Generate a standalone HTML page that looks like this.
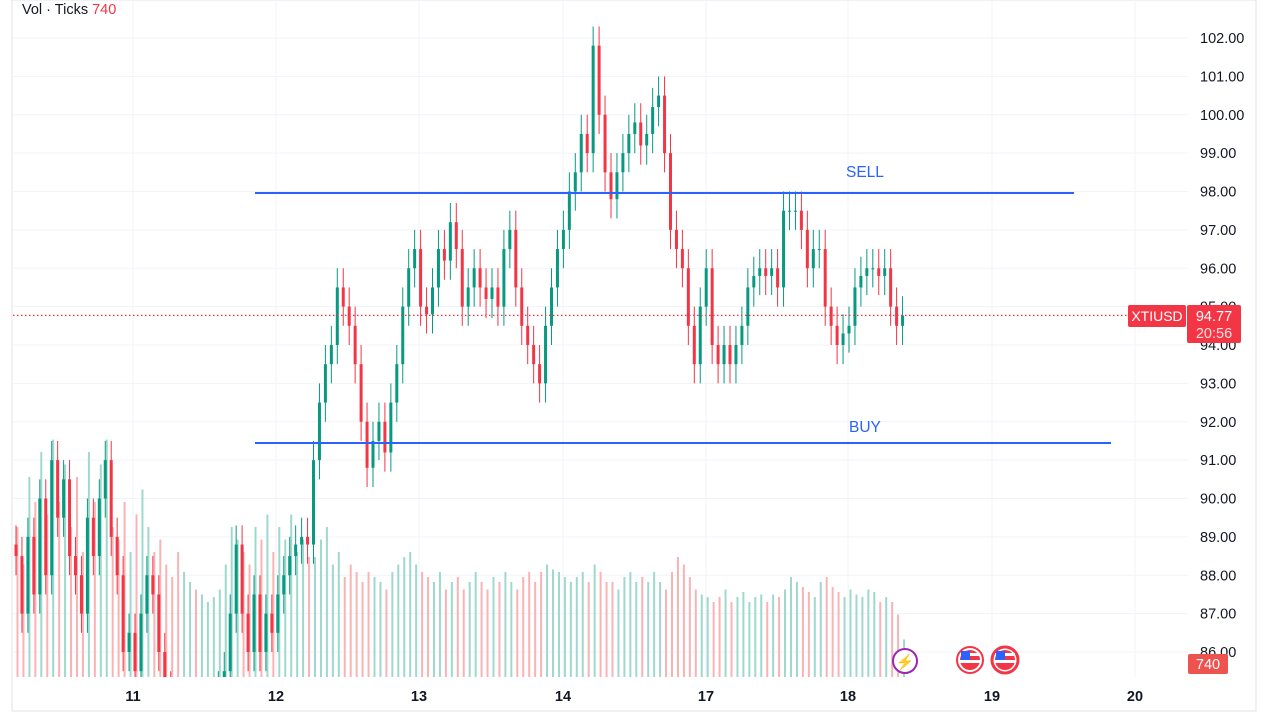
<!DOCTYPE html>
<html><head><meta charset="utf-8"><style>
body{margin:0;background:#fff;width:1269px;height:717px;overflow:hidden;font-family:"Liberation Sans",sans-serif}
svg{display:block}
</style></head><body>
<svg id="c" width="1269" height="717">
<defs><clipPath id="plot"><rect x="13" y="0" width="1175" height="677"/></clipPath></defs>
<g id="grid"></g>
<g id="vol" clip-path="url(#plot)"></g>
<g id="candles" clip-path="url(#plot)"></g>
<g id="over"></g>
</svg>
<script>
const closes=[88.5,87,89,87.5,90,88,91,89.5,90.5,88.5,
88,87,89.5,88.5,90,91,89,88,86,86.5,
85.5,87,88,87.5,86,85,84.5,84,84,84.5,
84,84,84.5,84.5,85,85.5,87,88.8,87,86,
87.5,86,87,86.5,87.5,88,88.5,88.8,89,88.8,
91,92.5,93.5,94,95.5,95,94.5,93.5,92,90.8,
91.5,92,91.2,92.5,93.5,95,96,96.5,95,94.8,
95.5,96.5,96.2,97.2,96.5,95,95.5,96,95.5,95.2,
95.5,95,96.5,97,95.5,94.5,94,93.5,93,94.5,
95.5,96.5,97,98,98.5,99.5,99,101.8,100,98.5,
97.8,98.5,99,99.5,99.8,99.2,99.5,100.2,100.5,99,
97,96.5,96,94.5,93.5,95,96,94,93.5,94,
93.5,94,94.5,95.5,95.8,96,95.8,96,95.5,97.5,
97.5,97.5,97,96,96.5,96.5,95,94.5,94,94.3,
94.5,95.5,95.8,96,96,95.8,96,95,94.5,94.77];
const volumes=[600,450,800,700,900,650,950,700,850,600,
800,500,900,700,850,950,600,550,700,500,
650,750,600,500,550,450,400,500,420,380,
350,330,300,320,350,450,600,550,500,450,
600,550,650,500,600,550,650,500,550,480,
480,550,600,450,500,400,450,420,380,420,
400,380,350,420,450,480,500,450,420,400,
380,420,350,380,400,350,380,420,380,350,
400,380,420,380,350,400,420,380,420,450,
430,420,400,380,400,420,380,450,420,380,
380,350,400,420,380,400,380,420,380,350,
420,480,450,400,350,330,320,300,320,350,
300,320,340,300,320,330,300,330,320,350,
400,380,360,340,320,380,400,360,340,320,
350,330,320,350,340,300,320,300,250,150];
const priceTicks=[102,101,100,99,98,97,96,95,94,93,92,91,90,89,88,87,86];
const dayLabels=["11","12","13","14","17","18","19","20"];
const dayPos=[133,276,419,563,706,848,992,1135];

const NS="http://www.w3.org/2000/svg";
const yP=p=>38+(102-p)*38.375;
const xI=i=>15+i*5.95;
const yV=v=>677-v*0.25;
function mk(t,a,parent){const e=document.createElementNS(NS,t);for(const k in a)e.setAttribute(k,a[k]);parent.appendChild(e);return e;}
const grid=document.getElementById('grid'),vol=document.getElementById('vol'),cg=document.getElementById('candles');
mk('rect',{x:12,y:0,width:1244,height:711,fill:'none',stroke:'#e0e3eb'},grid);
priceTicks.forEach(p=>{
  const l=mk('line',{x1:13,x2:1188,y1:yP(p),y2:yP(p),stroke:'#f0f3fa'},grid);
  
  
  const t=mk('text',{x:1200,y:yP(p)+5,'font-size':14.5,fill:'#131722'},grid);
  t.textContent=p.toFixed(2);
  
  
});
dayLabels.forEach((d,i)=>{
  const l=mk('line',{x1:dayPos[i],x2:dayPos[i],y1:0,y2:677,stroke:'#f0f3fa'},grid);
  
  
  const t=mk('text',{x:dayPos[i],y:701,'font-size':14.5,'font-weight':'bold',fill:'#131722','text-anchor':'middle'},grid);
  t.textContent=d;
  
  
});
closes.forEach((c,i)=>{
  const o=i?closes[i-1]:c+0.3, up=c>=o, x=xI(i);
  const v=mk('rect',{x:x+1.5,y:yV(volumes[i]),width:2,height:677-yV(volumes[i]),fill:up?'#9fd8cc':'#f9b3b5'},vol);
  
  
  const col=up?'#089981':'#f23645';
  const hi=Math.max(o,c)+0.5, lo=Math.min(o,c)-0.5;
  const w=mk('line',{x1:x+1,x2:x+1,y1:yP(hi),y2:yP(lo),stroke:col,'stroke-width':1},cg);
  
  
  const b=mk('rect',{x:x-0.5,y:yP(Math.max(o,c)),width:3,height:Math.max(1,Math.abs(yP(o)-yP(c))),fill:col},cg);
  
  
});
</script>
<svg width="1269" height="717" style="position:absolute;left:0;top:0">
<line x1="13" x2="1130" y1="315.4" y2="315.4" stroke="#f23645" stroke-width="1.3" stroke-dasharray="1.5,2.5"/>
<line x1="255" x2="1074" y1="193" y2="193" stroke="#2962ff" stroke-width="2"/>
<line x1="255" x2="1111" y1="443" y2="443" stroke="#2962ff" stroke-width="2"/>
<text x="846" y="177" font-size="15.5" fill="#2962ff">SELL</text>
<text x="849" y="432" font-size="15.5" fill="#2962ff">BUY</text>
<g><rect x="1128" y="305" width="58" height="22" rx="2" fill="#f23645"/><text x="1157" y="321" font-size="14" fill="#fff" text-anchor="middle">XTIUSD</text></g>
<g><rect x="1187" y="305" width="54" height="38" rx="2" fill="#f23645"/><text x="1214" y="321" font-size="14.5" fill="#fff" text-anchor="middle">94.77</text><text x="1214" y="338" font-size="14.5" fill="#fde0e2" text-anchor="middle">20:56</text></g>
<g><rect x="1188" y="654" width="40" height="20" rx="2" fill="#ef5350"/><text x="1208" y="669" font-size="14.5" fill="#fff" text-anchor="middle">740</text></g>
<g><circle cx="905" cy="661" r="12" fill="#fff" stroke="#9c27b0" stroke-width="2"/><text x="905" y="667" font-size="15" fill="#9c27b0" text-anchor="middle">⚡</text></g>
<g><circle cx="970" cy="660" r="13" fill="#fff" stroke="#f23645" stroke-width="2"/><rect x="960" y="650" width="20" height="20" rx="10" fill="#f23645"/><rect x="960" y="653" width="20" height="3" fill="#fff"/><rect x="960" y="660" width="20" height="3" fill="#fff"/><rect x="961" y="651" width="9" height="9" fill="#2962ff"/></g>
<g><circle cx="1005" cy="660" r="13" fill="#fff" stroke="#f23645" stroke-width="3"/><rect x="995" y="650" width="20" height="20" rx="10" fill="#f23645"/><rect x="995" y="653" width="20" height="3" fill="#fff"/><rect x="995" y="660" width="20" height="3" fill="#fff"/><rect x="996" y="651" width="9" height="9" fill="#2962ff"/></g>
<text x="22" y="14" font-size="14.5" fill="#131722">Vol · Ticks <tspan fill="#f23645">740</tspan></text>
</svg>
</body></html>
